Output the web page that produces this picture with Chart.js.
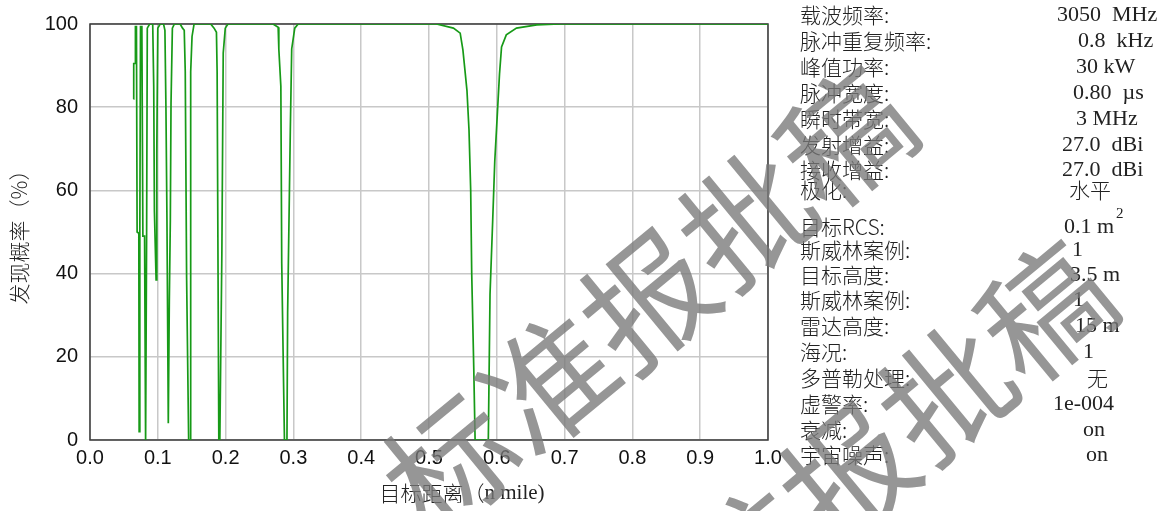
<!DOCTYPE html>
<html>
<head>
<meta charset="utf-8">
<script src="https://cdn.jsdelivr.net/npm/chart.js@4"></script>
<style>
   html, body { margin: 0; padding: 0; background: #ffffff; }
   #wrap { width: 1168px; height: 511px; position: relative; }
</style>
</head>
<body>
<div id="wrap"><canvas id="pd" width="1168" height="511"></canvas></div>
<script>
// Дальность цели (морские мили) и вероятность обнаружения (%)
const distance = [
   0.064, 0.0645, 0.0665, 0.067, 0.0685, 0.0695, 0.072, 0.0725, 0.0735, 0.0745,
   0.0765, 0.078, 0.0805, 0.082, 0.0835, 0.0845, 0.088, 0.0925, 0.094, 0.095,
   0.0975, 0.0985, 0.1, 0.1035, 0.1085, 0.1105, 0.112, 0.1135, 0.1155, 0.117,
   0.1185, 0.1195, 0.1215, 0.1245, 0.133, 0.1365, 0.139, 0.1405, 0.1425, 0.1455,
   0.1475, 0.1485, 0.1505, 0.1535, 0.178, 0.183, 0.1865, 0.1875, 0.19, 0.1915,
   0.1945, 0.1965, 0.1995, 0.2035, 0.27, 0.2775, 0.2785, 0.2815, 0.2828, 0.2868,
   0.2905, 0.2915, 0.2955, 0.2975, 0.302, 0.307, 0.511, 0.536, 0.546, 0.55,
   0.553, 0.556, 0.559, 0.5615, 0.563, 0.566, 0.568, 0.5875, 0.59, 0.594,
   0.597, 0.601, 0.604, 0.607, 0.614, 0.629, 0.659, 0.693, 1.0
];
const detectProb = [
   82, 90.5, 90.5, 99.4, 99.4, 50, 49.7, 2, 50, 99.4,
   99.4, 49, 49, 0, 49, 99, 100, 100, 85, 55,
   38.5, 69, 99, 100, 100, 98.5, 80, 53, 4, 33.6,
   53, 81, 99, 100, 100, 99, 98.5, 88.5, 39, 0,
   0, 88.5, 97, 100, 100, 99, 98, 88.5, 0, 0,
   45, 93, 99, 100, 100, 99.2, 94, 85, 42.5, 0,
   0, 30.5, 75, 94, 99, 100, 100, 99, 97.8, 93.8,
   88.9, 84, 74.5, 60, 40, 17.5, 0, 0, 35, 53,
   67, 79, 88, 94.5, 97.4, 99, 99.8, 100, 100
];

// Параметры радара (правая панель)
const paramNames = [
   '载波频率:', '脉冲重复频率:', '峰值功率:', '脉冲宽度:', '瞬时带宽:', '发射增益:',
   '接收增益:', '极化:', '目标RCS:', '斯威林案例:', '目标高度:', '斯威林案例:',
   '雷达高度:', '海况:', '多普勒处理:', '虚警率:', '衰减:', '宇宙噪声:'
];
const paramValues = [
   '3050  MHz', '0.8  kHz', '30 kW', '0.80  µs', '3 MHz', '27.0  dBi',
   '27.0  dBi', '水平', '0.1 m', '1', '3.5 m', '1',
   '15 m', '1', '无', '1e-004', 'on', 'on'
];

// раскладка панели
const rowY = [15, 41, 67, 93, 119, 145, 170, 190, 227, 250, 275, 300, 326, 352, 378, 404, 430, 455];
const valueX = [1057, 1078, 1076, 1073, 1076, 1062, 1062, 1069, 1064, 1072, 1070, 1073, 1075, 1083, 1087, 1053, 1083, 1086];

const points = distance.map((d, i) => ({ x: d, y: detectProb[i] }));

const decor = {
   id: 'decor',
   beforeDatasetsDraw(chart) {
      const { ctx, chartArea: a } = chart;
      ctx.save();
      ctx.strokeStyle = '#3a3a3a';
      ctx.lineWidth = 1.5;
      ctx.strokeRect(a.left, a.top, a.right - a.left, a.bottom - a.top);
      ctx.restore();
   },
   afterDraw(chart) {
      const { ctx } = chart;
      const cjk = '300 21px "Noto Sans CJK SC"';
      ctx.save();
      ctx.fillStyle = '#222';
      ctx.textBaseline = 'middle';

      // подпись оси Y
      ctx.save();
      ctx.translate(19, 232);
      ctx.rotate(-Math.PI / 2);
      ctx.textAlign = 'center';
      ctx.font = cjk;
      ctx.fillText('发现概率（%）', 0, 0);
      ctx.restore();

      // подпись оси X
      ctx.font = cjk;
      const t1 = '目标距离（';
      const w1 = ctx.measureText(t1).width;
      ctx.font = '21px "Liberation Serif"';
      const t2 = 'n mile)';
      const w2 = ctx.measureText(t2).width;
      const sx = 462 - (w1 + w2) / 2;
      ctx.textAlign = 'left';
      ctx.font = cjk;
      ctx.fillText(t1, sx, 493);
      ctx.font = '21px "Liberation Serif"';
      ctx.fillText(t2, sx + w1, 493);

      // панель параметров
      paramNames.forEach((name, i) => {
         ctx.textAlign = 'left';
         ctx.font = cjk;
         ctx.fillText(name, 800, rowY[i]);
         const v = paramValues[i];
         ctx.font = /[\u4e00-\u9fff]/.test(v) ? cjk : '22px "Liberation Serif"';
         ctx.fillText(v, valueX[i], rowY[i]);
         if (name === '目标RCS:') {
            const w = ctx.measureText(v).width;
            ctx.font = '15px "Liberation Serif"';
            ctx.fillText('2', valueX[i] + w + 2, rowY[i] - 13);
         }
      });

      // водяной знак
      ctx.fillStyle = 'rgba(120,120,120,0.78)';
      ctx.font = '128px "Noto Sans CJK SC"';
      ctx.textAlign = 'center';
      const marks = [[648, 300], [848, 474]];
      marks.forEach(([cx, cy]) => {
         ctx.save();
         ctx.translate(cx, cy);
         ctx.rotate(-0.69);
         ctx.fillText('标准报批稿', 0, 0);
         ctx.restore();
      });
      ctx.restore();
   }
};

new Chart(document.getElementById('pd'), {
   type: 'line',
   data: {
      datasets: [{
         data: points,
         borderColor: '#179a17',
         borderWidth: 1.7,
         pointRadius: 0,
         fill: false,
         tension: 0
      }]
   },
   options: {
      responsive: false,
      animation: false,
      events: [],
      layout: { padding: { left: 0, top: 24, right: 400, bottom: 0 } },
      plugins: {
         legend: { display: false },
         tooltip: { enabled: false }
      },
      scales: {
         x: {
            type: 'linear',
            min: 0,
            max: 1,
            afterFit: (s) => { s.height = 71; },
            ticks: {
               stepSize: 0.1,
               padding: 6,
               color: '#111',
               font: { family: 'Liberation Sans', size: 20 },
               callback: (v) => v.toFixed(1)
            },
            grid: { color: '#c8c8c8', lineWidth: 1.5, drawTicks: false },
            border: { display: false }
         },
         y: {
            min: 0,
            max: 100,
            afterFit: (s) => { s.width = 90; },
            ticks: {
               stepSize: 20,
               padding: 12,
               color: '#111',
               font: { family: 'Liberation Sans', size: 20 }
            },
            grid: { color: '#c8c8c8', lineWidth: 1.5, drawTicks: false },
            border: { display: false }
         }
      }
   },
   plugins: [decor]
});
</script>
</body>
</html>
